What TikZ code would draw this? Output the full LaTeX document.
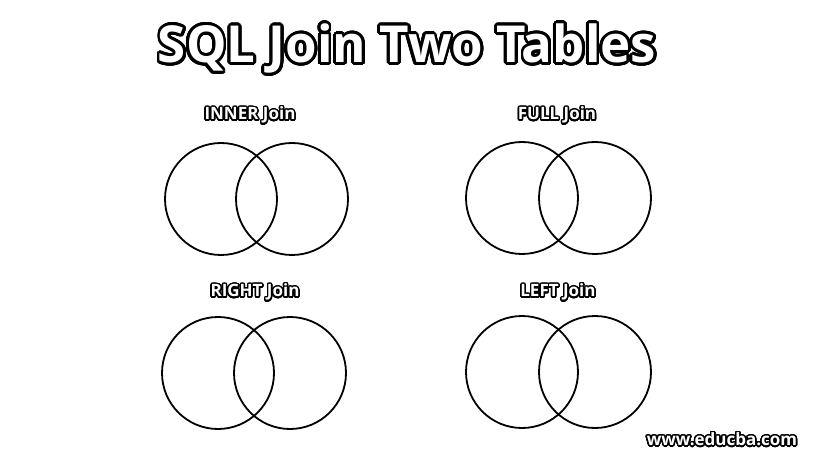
\documentclass[tikz,border=0pt]{standalone}
\usepackage{fontspec}
\setmainfont{Open Sans}
\usepackage{contour}
\contournumber{32}

\tikzset{
  vennset/.style={circle, draw=black, line width=1.8pt, minimum size=112pt, inner sep=0pt},
  joinlabel/.style={text=white, font=\bfseries\fontsize{17}{17}\selectfont},
  titletext/.style={text=white, font=\bfseries\fontsize{51}{51}\selectfont},
}

\begin{document}
\begin{tikzpicture}[x=1pt,y=-1pt]
\useasboundingbox[fill=white] (0,0) rectangle (814,457);

% title
\contourlength{2.8pt}
\node[titletext] (title) at (407,50) {\contour{black}{SQL Join Two Tables}};

\contourlength{1.4pt}
% INNER Join
\node[joinlabel] (innerlbl) at (250,116) {\contour{black}{INNER Join}};
\node[vennset] (innerA) at (221,199) {};
\node[vennset] (innerB) at (292,199) {};

% FULL Join
\node[joinlabel] (fulllbl) at (557,116) {\contour{black}{FULL Join}};
\node[vennset] (fullA) at (522,198) {};
\node[vennset] (fullB) at (595,198) {};

% RIGHT Join
\node[joinlabel] (rightlbl) at (255,293) {\contour{black}{RIGHT Join}};
\node[vennset] (rightA) at (218,373) {};
\node[vennset] (rightB) at (290,373) {};

% LEFT Join
\node[joinlabel] (leftlbl) at (558,293) {\contour{black}{LEFT Join}};
\node[vennset] (leftA) at (522,372) {};
\node[vennset] (leftB) at (595,372) {};

% watermark
\node[joinlabel] (mark) at (722,440) {\contour{black}{www.educba.com}};
\end{tikzpicture}
\end{document}
